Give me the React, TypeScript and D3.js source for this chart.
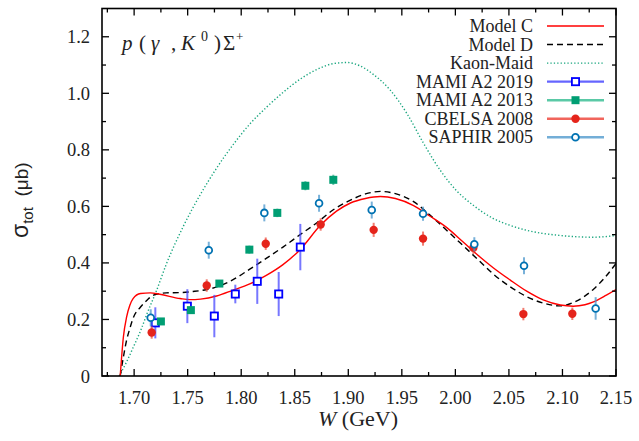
import React from "react";
import * as d3 from "d3";

const WIDTH = 639;
const HEIGHT = 441;

// axis ticks
const xMajorTicks = [1.7, 1.75, 1.8, 1.85, 1.9, 1.95, 2.0, 2.05, 2.1, 2.15];
const xTickLabels = ["1.70", "1.75", "1.80", "1.85", "1.90", "1.95", "2.00", "2.05", "2.10", "2.15"];
const xMinorTicks = [1.675, 1.725, 1.775, 1.825, 1.875, 1.925, 1.975, 2.025, 2.075, 2.125];
const yMajorTicks = [0, 0.2, 0.4, 0.6, 0.8, 1.0, 1.2];
const yTickLabels = ["0", "0.2", "0.4", "0.6", "0.8", "1.0", "1.2"];
const yMinorTicks = [0.1, 0.3, 0.5, 0.7, 0.9, 1.1];

// model curves [W (GeV), sigma (mub)]
const modelC: [number, number][] = [
  [1.687, 0], [1.69, 0.139], [1.693, 0.209], [1.696, 0.25], [1.699, 0.274], [1.706, 0.292],
  [1.715, 0.294], [1.724, 0.289], [1.743, 0.274], [1.752, 0.27], [1.762, 0.272], [1.777, 0.283],
  [1.792, 0.303], [1.808, 0.326], [1.823, 0.355], [1.839, 0.394], [1.855, 0.447], [1.874, 0.533],
  [1.889, 0.583], [1.902, 0.612], [1.916, 0.628], [1.93, 0.635], [1.944, 0.628], [1.961, 0.603],
  [1.976, 0.566], [1.992, 0.525], [2.007, 0.475], [2.023, 0.421], [2.035, 0.384], [2.051, 0.34],
  [2.067, 0.299], [2.082, 0.269], [2.098, 0.251], [2.11, 0.247], [2.121, 0.252], [2.129, 0.262],
  [2.141, 0.286], [2.15, 0.306],
];
const modelD: [number, number][] = [
  [1.687, 0], [1.69, 0.068], [1.693, 0.127], [1.696, 0.168], [1.699, 0.204], [1.706, 0.244],
  [1.712, 0.268], [1.718, 0.286], [1.73, 0.294], [1.743, 0.295], [1.755, 0.299], [1.768, 0.306],
  [1.777, 0.315], [1.792, 0.34], [1.808, 0.378], [1.823, 0.415], [1.839, 0.456], [1.855, 0.5],
  [1.871, 0.543], [1.886, 0.588], [1.902, 0.622], [1.916, 0.644], [1.93, 0.653], [1.944, 0.645],
  [1.961, 0.617], [1.976, 0.57], [1.992, 0.515], [2.007, 0.462], [2.023, 0.405], [2.035, 0.362],
  [2.051, 0.316], [2.067, 0.28], [2.082, 0.258], [2.098, 0.248], [2.113, 0.265], [2.129, 0.307],
  [2.14, 0.35], [2.15, 0.398],
];
const kaonMaid: [number, number][] = [
  [1.686, 0], [1.693, 0.05], [1.699, 0.1], [1.706, 0.16], [1.712, 0.22], [1.721, 0.303],
  [1.73, 0.395], [1.746, 0.53], [1.762, 0.643], [1.777, 0.735], [1.793, 0.821], [1.808, 0.891],
  [1.824, 0.952], [1.839, 1.003], [1.855, 1.05], [1.871, 1.085], [1.886, 1.105], [1.899, 1.109],
  [1.911, 1.097], [1.923, 1.068], [1.939, 1.012], [1.955, 0.927], [1.97, 0.825], [1.986, 0.727],
  [2.001, 0.656], [2.017, 0.603], [2.035, 0.558], [2.051, 0.533], [2.067, 0.515], [2.098, 0.497],
  [2.129, 0.491], [2.15, 0.497],
];

// experimental data
const mami2019W = [1.7198, 1.7497, 1.7749, 1.7945, 1.815, 1.835, 1.8552];
const mami2019S = [0.188, 0.247, 0.212, 0.29, 0.335, 0.29, 0.456];
const mami2019E = [0.055, 0.06, 0.075, 0.033, 0.08, 0.078, 0.082];

const mami2013W = [1.725, 1.753, 1.7796, 1.8076, 1.8337, 1.8599, 1.886];
const mami2013S = [0.193, 0.233, 0.327, 0.447, 0.577, 0.673, 0.694];
const mami2013E = [0.012, 0.012, 0.012, 0.014, 0.015, 0.016, 0.018];

const cbelsaW = [1.7164, 1.7678, 1.8229, 1.8742, 1.9237, 1.9698, 2.0168, 2.0635, 2.1092];
const cbelsaS = [0.154, 0.32, 0.468, 0.536, 0.517, 0.486, 0.454, 0.219, 0.22];
const cbelsaE = [0.022, 0.022, 0.022, 0.022, 0.025, 0.025, 0.022, 0.022, 0.022];

const saphirW = [1.7155, 1.7697, 1.8216, 1.8727, 1.9219, 1.9698, 2.0177, 2.0641, 2.131];
const saphirS = [0.206, 0.445, 0.577, 0.611, 0.587, 0.574, 0.466, 0.39, 0.239];
const saphirE = [0.03, 0.03, 0.03, 0.03, 0.03, 0.025, 0.025, 0.03, 0.04];

const legendLabels = ["Model C", "Model D", "Kaon-Maid", "MAMI A2 2019", "MAMI A2 2013", "CBELSA 2008", "SAPHIR 2005"];

const SERIF = "'Liberation Serif', 'Times New Roman', serif";
const SANS = "'Liberation Sans', Arial, sans-serif";

const L = 102, R = 616, T = 8.5, B = 376;

const x = d3.scaleLinear().domain([1.67, 2.15]).range([L, R]);
const y = d3.scaleLinear().domain([0, 1.3]).range([B, T]);

const line = d3
  .line<[number, number]>()
  .x((d) => x(d[0]))
  .y((d) => y(d[1]))
  .curve(d3.curveMonotoneX);

type Kind = "openSquare" | "filledSquare" | "filledCircle" | "openCircle";

function Marker({ kind, cx, cy }: { kind: Kind; cx: number; cy: number }) {
  if (kind === "openSquare")
    return <rect x={cx - 3.6} y={cy - 3.6} width={7.2} height={7.2} fill="#fff" stroke="#0000ff" strokeWidth={1.8} />;
  if (kind === "filledSquare")
    return <rect x={cx - 4} y={cy - 4} width={8} height={8} fill="#009e73" />;
  if (kind === "filledCircle") return <circle cx={cx} cy={cy} r={4.2} fill="#e5241b" />;
  return <circle cx={cx} cy={cy} r={3.4} fill="#fff" stroke="#0072b2" strokeWidth={1.8} />;
}

const series = [
  { W: mami2019W, S: mami2019S, E: mami2019E, kind: "openSquare" as Kind, err: "#4a4aff", leg: "#4a4aff" },
  { W: mami2013W, S: mami2013S, E: mami2013E, kind: "filledSquare" as Kind, err: "#3aae8c", leg: "#3dbf96" },
  { W: cbelsaW, S: cbelsaS, E: cbelsaE, kind: "filledCircle" as Kind, err: "#ee5040", leg: "#ee4a40" },
  { W: saphirW, S: saphirS, E: saphirE, kind: "openCircle" as Kind, err: "#4c97cc", leg: "#5aa0d0" },
];

export default function App() {
  const legendY = (i: number) => 26 + i * 18.55;
  return (
    <svg width={WIDTH} height={HEIGHT} style={{ position: "absolute", left: 0, top: 0, background: "#fff" }}>
      <defs>
        <clipPath id="plotclip">
          <rect x={L} y={T} width={R - L} height={B - T} />
        </clipPath>
      </defs>
      <rect x={0} y={0} width={WIDTH} height={HEIGHT} fill="#fff" />

      {/* curves */}
      <g clipPath="url(#plotclip)" fill="none">
        <path d={line(kaonMaid) || ""} stroke="#1aa67f" strokeWidth={1.4} strokeDasharray="1.3 2.1" />
        <path d={line(modelD) || ""} stroke="#000" strokeWidth={1.4} strokeDasharray="6 4" />
        <path d={line(modelC) || ""} stroke="#ff0000" strokeWidth={1.4} />
      </g>

      {/* data */}
      <g>
        {series.map((s, si) => (
          <g key={si}>
            {s.W.map((w, i) => (
              <line
                key={"e" + i}
                x1={x(w)}
                x2={x(w)}
                y1={y(s.S[i] - s.E[i])}
                y2={y(s.S[i] + s.E[i])}
                stroke={s.err}
                strokeOpacity={0.75}
                strokeWidth={2}
              />
            ))}
            {s.W.map((w, i) => (
              <Marker key={"m" + i} kind={s.kind} cx={x(w)} cy={y(s.S[i])} />
            ))}
          </g>
        ))}
      </g>

      {/* frame & ticks */}
      <g stroke="#000" strokeWidth={1.3}>
        {xMajorTicks.map((t, i) => (
          <g key={"xM" + i}>
            <line x1={x(t)} x2={x(t)} y1={B} y2={B - 7} />
            <line x1={x(t)} x2={x(t)} y1={T} y2={T + 7} />
          </g>
        ))}
        {xMinorTicks.map((t, i) => (
          <g key={"xm" + i}>
            <line x1={x(t)} x2={x(t)} y1={B} y2={B - 4} />
            <line x1={x(t)} x2={x(t)} y1={T} y2={T + 4} />
          </g>
        ))}
        {yMajorTicks.map((t, i) => (
          <g key={"yM" + i}>
            <line x1={L} x2={L + 7} y1={y(t)} y2={y(t)} />
            <line x1={R} x2={R - 7} y1={y(t)} y2={y(t)} />
          </g>
        ))}
        {yMinorTicks.map((t, i) => (
          <g key={"ym" + i}>
            <line x1={L} x2={L + 4} y1={y(t)} y2={y(t)} />
            <line x1={R} x2={R - 4} y1={y(t)} y2={y(t)} />
          </g>
        ))}
        <rect x={L} y={T} width={R - L} height={B - T} fill="none" strokeWidth={1.6} />
      </g>

      {/* tick labels */}
      <g fontFamily={SERIF} fontSize={18.5} fill="#222">
        {xMajorTicks.map((t, i) => (
          <text key={"xl" + i} x={x(t)} y={404} textAnchor="middle">
            {xTickLabels[i]}
          </text>
        ))}
        {yMajorTicks.map((t, i) => (
          <text key={"yl" + i} x={90} y={y(t) + 6.5} textAnchor="end">
            {yTickLabels[i]}
          </text>
        ))}
      </g>

      {/* axis titles */}
      <text x={358} y={426} textAnchor="middle" fontFamily={SERIF} fontSize={22} fill="#222">
        <tspan fontStyle="italic">W</tspan>
        <tspan> (GeV)</tspan>
      </text>
      <text transform="translate(28,238) rotate(-90)" fontFamily={SANS} fill="#222">
        <tspan fontSize={23}>σ</tspan>
        <tspan fontSize={15} dy={5}>tot</tspan>
        <tspan fontSize={19} dy={-5}>{"\u00a0\u00a0(μb)"}</tspan>
      </text>

      {/* reaction title */}
      <g fontFamily={SERIF} fontSize={21} fill="#222">
        <text x={122} y={50} fontStyle="italic">p</text>
        <text x={139} y={50}>(</text>
        <text x={151} y={50} fontStyle="italic">γ</text>
        <text x={171} y={50}>,</text>
        <text x={181} y={50} fontStyle="italic">K</text>
        <text x={201} y={41} fontSize={14}>0</text>
        <text x={214} y={50}>)</text>
        <text x={223} y={50}>Σ</text>
        <text x={236} y={41} fontSize={13}>+</text>
      </g>

      {/* legend */}
      <g fontFamily={SERIF} fontSize={18} fill="#222">
        {legendLabels.map((lab, i) => (
          <text key={"lt" + i} x={533} y={legendY(i) + 6} textAnchor="end">
            {lab}
          </text>
        ))}
      </g>
      <g fill="none">
        <line x1={547} x2={604} y1={legendY(0)} y2={legendY(0)} stroke="#ff0000" strokeWidth={1.4} />
        <line x1={547} x2={604} y1={legendY(1)} y2={legendY(1)} stroke="#000" strokeWidth={1.4} strokeDasharray="6 4" />
        <line x1={547} x2={604} y1={legendY(2)} y2={legendY(2)} stroke="#1aa67f" strokeWidth={1.4} strokeDasharray="1.3 2.1" />
      </g>
      {series.map((s, si) => (
        <g key={"lg" + si}>
          <line x1={547} x2={604} y1={legendY(3 + si)} y2={legendY(3 + si)} stroke={s.leg} strokeWidth={2.4} strokeOpacity={0.85} />
          <Marker kind={s.kind} cx={575.5} cy={legendY(3 + si)} />
        </g>
      ))}
    </svg>
  );
}
